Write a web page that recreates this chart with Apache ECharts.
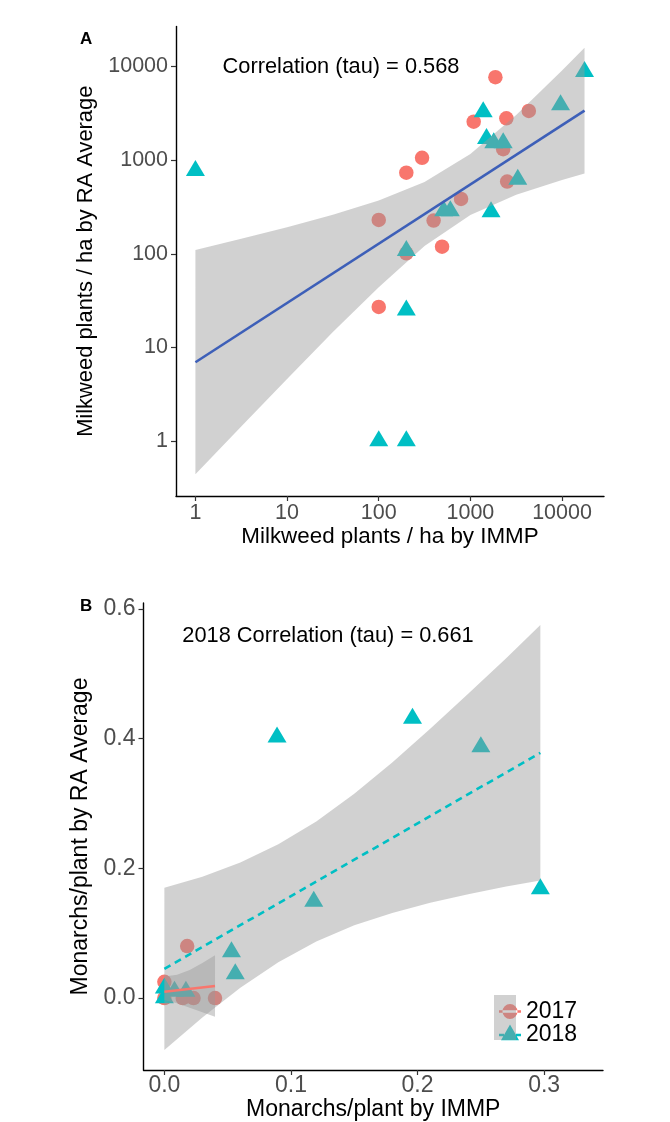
<!DOCTYPE html>
<html><head><meta charset="utf-8">
<script src="https://cdn.jsdelivr.net/npm/echarts@6/dist/echarts.min.js"></script>
<style>html,body{margin:0;padding:0;background:#fff}#c{width:670px;height:1122px}</style>
</head><body><div id="c"></div><script>
const FONT = '"Liberation Sans", Arial, Helvetica, sans-serif';

// ---------- Panel A: milkweed plants / ha (log scales) ----------
const aTicks = [1, 10, 100, 1000, 10000];
const a2017 = [[1875,7700],[1087,2580],[2470,2800],[4340,3360],[2280,1310],[297,1060],[200,735],[2520,590],[791,385],[397,226],[100,230],[491,119],[200,101],[100,27]];
const a2018 = [[1,770],[17600,8800],[9630,3880],[1380,3265],[1500,1694],[1800,1523],[2280,1523],[3290,623],[511,286],[604,286],[1680,279],[200,108],[200,25],[200,1],[100,1]];
const aFitX = [1, 17600];
const aFitY = [6.93, 3380];
const aBandX  = [1, 3.16, 10, 31.6, 100, 316, 1000, 3162, 10000, 17600];
const aBandLo = [0.44, 1.43, 4.6, 14.6, 44, 121, 259, 428, 615, 719];
const aBandHi = [110, 145, 192, 261, 370, 583, 1167, 3041, 9057, 15890];

// ---------- Panel B: monarchs / plant ----------
const bTicksX = [0, 0.1, 0.2, 0.3];
const bTicksY = [0, 0.2, 0.4, 0.6];
const b2017 = [[0,0.025],[0,0],[0.0145,0],[0.023,0],[0.04,0],[0.018,0.08]];
const b2018 = [[0.089,0.402],[0.196,0.431],[0.25,0.387],[0.297,0.168],[0.118,0.149],[0.053,0.071],[0.056,0.037],[0,0],[0,0.015],[0.008,0.01],[0.017,0.01]];
const b2017FitX = [0, 0.04];
const b2017FitY = [0.0097, 0.0185];
const b2017BandX  = [0, 0.01, 0.02, 0.03, 0.04];
const b2017BandLo = [-0.003, -0.008, -0.015, -0.022, -0.029];
const b2017BandHi = [0.033, 0.036, 0.043, 0.054, 0.066];
const b2018FitX = [0, 0.297];
const b2018FitY = [0.045, 0.378];
const b2018BandX  = [0, 0.03, 0.06, 0.09, 0.12, 0.15, 0.18, 0.21, 0.24, 0.27, 0.297];
const b2018BandLo = [-0.080, -0.030, 0.016, 0.055, 0.087, 0.112, 0.131, 0.147, 0.160, 0.172, 0.181];
const b2018BandHi = [0.170, 0.187, 0.209, 0.237, 0.272, 0.315, 0.363, 0.415, 0.469, 0.524, 0.575];

const RED = '#F8766D', TEAL = '#00BFC4', BAND = 'rgba(153,153,153,0.45)';
const L = v => Math.log10(v);
const ID = v => v;

function band(gi, xs, lo, hi, tf) {
  return {
    type: 'custom', xAxisIndex: gi, yAxisIndex: gi, silent: true, z: 3,
    data: [[tf(xs[0]), tf(lo[0])]],
    renderItem: (params, api) => {
      const pts = [];
      for (let i = 0; i < xs.length; i++) pts.push(api.coord([tf(xs[i]), tf(hi[i])]));
      for (let i = xs.length - 1; i >= 0; i--) pts.push(api.coord([tf(xs[i]), tf(lo[i])]));
      return { type: 'polygon', shape: { points: pts }, style: { fill: BAND } };
    }
  };
}
function pts(gi, name, data, tf, sym) {
  const tri = sym === 'triangle';
  return {
    type: 'scatter', name, xAxisIndex: gi, yAxisIndex: gi, z: 2, silent: true,
    symbol: sym, symbolSize: tri ? [19, 16] : 14.5, symbolOffset: tri ? [0, -2.7] : [0, 0],
    itemStyle: { color: tri ? TEAL : RED, opacity: 1 },
    data: data.map(d => [tf(d[0]), tf(d[1])])
  };
}
function fit(gi, xs, ys, tf, color, type) {
  return {
    type: 'line', xAxisIndex: gi, yAxisIndex: gi, z: 4, silent: true, showSymbol: false,
    lineStyle: { color, width: 2.6, type: type },
    data: xs.map((x, i) => [tf(x), tf(ys[i])])
  };
}
function xAx(gi, min, max, ticks, fmt, name, lblSize, nameSize, nameGap, margin) {
  return {
    gridIndex: gi, type: 'value', min, max,
    axisLine: { onZero: false, lineStyle: { color: '#000', width: 1.4 } },
    axisTick: { customValues: ticks, length: 5, lineStyle: { color: '#333', width: 1.2 } },
    axisLabel: { customValues: ticks, formatter: fmt, color: '#4d4d4d', fontSize: lblSize, fontFamily: FONT, margin },
    splitLine: { show: false },
    name, nameLocation: 'middle', nameGap,
    nameTextStyle: { fontSize: nameSize, color: '#000', fontFamily: FONT, verticalAlign: 'middle' }
  };
}
const yAx = xAx;

const aT = aTicks.map(L);
const fmtA = v => String(Math.round(Math.pow(10, v)));
const fmtB = v => v.toFixed(1);

const icon2017 = 'path://M0,0M22,22M0,9.75L22,9.75L22,12.25L0,12.25ZM3.5,11A7.5,7.5 0 1,0 18.5,11A7.5,7.5 0 1,0 3.5,11Z';
const icon2018 = 'path://M0,0M22,22M11,0.4L20,16.3L2,16.3ZM0,9.75L5,9.75L5,12.25L0,12.25ZM8.5,9.75L13.5,9.75L13.5,12.25L8.5,12.25ZM17,9.75L22,9.75L22,12.25L17,12.25Z';

const chart = echarts.init(document.getElementById('c'), null, { renderer: 'canvas' });
chart.setOption({
  backgroundColor: '#fff',
  animation: false,
  textStyle: { fontFamily: FONT },
  grid: [
    { left: 176, top: 26.5, width: 428, height: 469.5 },
    { left: 143.5, top: 603, width: 459.5, height: 467 }
  ],
  xAxis: [
    xAx(0, -0.212, 4.458, aT, fmtA, 'Milkweed plants / ha by IMMP', 21.5, 22.4, 41, 6),
    xAx(1, -0.0165, 0.3465, bTicksX, fmtB, 'Monarchs/plant by IMMP', 23, 23, 33, 4)
  ],
  yAxis: [
    yAx(0, -0.588, 4.428, aT, fmtA, 'Milkweed plants / ha by RA Average', 21.5, 21.9, 85, 8),
    yAx(1, -0.111, 0.609, bTicksY, fmtB, 'Monarchs/plant by RA Average', 23, 23, 53, 8)
  ],
  legend: {
    orient: 'vertical', left: 494, top: 995, itemWidth: 22, itemHeight: 22, itemGap: 0.5,
    selectedMode: false, z: 5,
    textStyle: { fontSize: 23, color: '#000', fontFamily: FONT },
    data: [
      { name: '2017', icon: icon2017, itemStyle: { color: RED } },
      { name: '2018', icon: icon2018, itemStyle: { color: TEAL } }
    ]
  },
  graphic: [
    { type: 'text', left: 80, top: 31, z: 10, style: { text: 'A', fontSize: 17, fontWeight: 'bold', fill: '#000', fontFamily: FONT } },
    { type: 'text', left: 80, top: 598, z: 10, style: { text: 'B', fontSize: 17, fontWeight: 'bold', fill: '#000', fontFamily: FONT } },
    { type: 'text', x: 341, y: 67, z: 10, style: { text: 'Correlation (tau) = 0.568', fontSize: 21.8, fill: '#000', fontFamily: FONT, align: 'center', verticalAlign: 'middle' } },
    { type: 'text', x: 328, y: 636, z: 10, style: { text: '2018 Correlation (tau) = 0.661', fontSize: 21.8, fill: '#000', fontFamily: FONT, align: 'center', verticalAlign: 'middle' } },
    { type: 'rect', z: 100, shape: { x: 494, y: 995, width: 22, height: 45 }, style: { fill: BAND } }
  ],
  series: [
    pts(0, '2017', a2017, L, 'circle'),
    pts(0, '2018', a2018, L, 'triangle'),
    band(0, aBandX, aBandLo, aBandHi, L),
    fit(0, aFitX, aFitY, L, '#3D5FB8', 'solid'),
    pts(1, '2017', b2017, ID, 'circle'),
    pts(1, '2018', b2018, ID, 'triangle'),
    band(1, b2017BandX, b2017BandLo, b2017BandHi, ID),
    band(1, b2018BandX, b2018BandLo, b2018BandHi, ID),
    fit(1, b2017FitX, b2017FitY, ID, RED, 'solid'),
    fit(1, b2018FitX, b2018FitY, ID, TEAL, [7, 5])
  ]
});
</script></body></html>
